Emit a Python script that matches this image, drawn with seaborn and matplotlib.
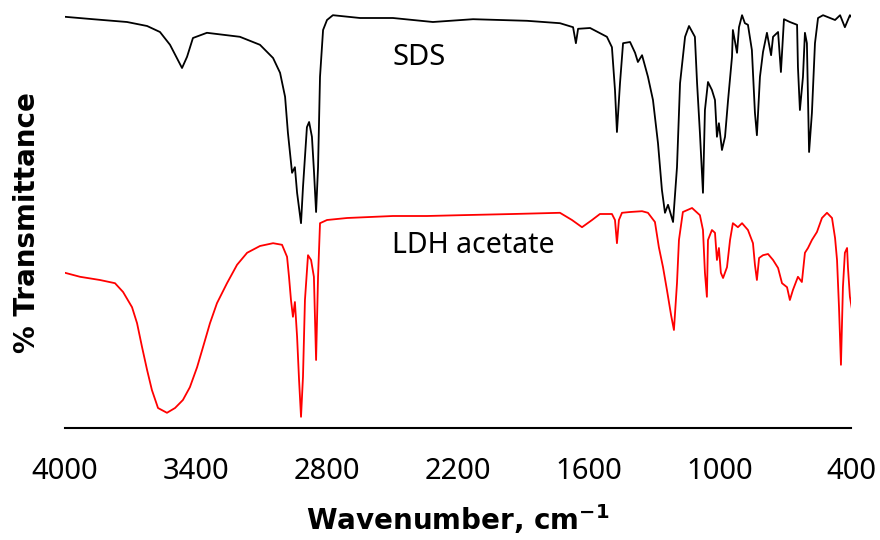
import matplotlib
matplotlib.use('Agg')
import matplotlib.pyplot as plt
import seaborn as sns
import pandas as pd

# FTIR spectra (wavenumber in cm-1, offset % transmittance)
sds_wn = [4000, 3872, 3716, 3624, 3565, 3519, 3464, 3441, 3414, 3350,
          3199, 3107, 3047, 3015, 2992, 2979, 2960, 2947, 2937, 2919,
          2910, 2892, 2882, 2869, 2860, 2850, 2841, 2832, 2818, 2800,
          2773, 2649, 2498, 2315, 2131, 1884, 1733, 1673, 1660, 1650,
          1595, 1518, 1495, 1481, 1472, 1458, 1444, 1412, 1389, 1376,
          1357, 1330, 1307, 1284, 1266, 1252, 1238, 1215, 1197, 1183,
          1160, 1142, 1115, 1105, 1092, 1078, 1069, 1055, 1037, 1023,
          1014, 1005, 991, 977, 963, 945, 941, 922, 913, 899,
          886, 872, 854, 840, 831, 817, 803, 785, 766, 757,
          734, 721, 707, 680, 647, 643, 634, 620, 611, 602,
          592, 579, 565, 551, 528, 496, 473, 450, 428, 405, 395]
sds_t = [102.8, 102.2, 101.5, 100.5, 99.0, 95.8, 90.0, 92.8, 97.5, 98.8,
         97.8, 95.8, 92.5, 88.8, 82.8, 73.8, 63.8, 65.2, 58.8, 51.2,
         60.2, 75.2, 76.5, 72.8, 64.5, 54.0, 65.2, 87.8, 99.5, 102.0,
         103.2, 102.5, 102.5, 101.5, 102.2, 101.8, 101.2, 100.2, 96.2, 99.8,
         100.0, 97.8, 95.2, 84.5, 74.0, 86.2, 96.2, 96.5, 93.8, 91.5,
         93.2, 87.8, 82.0, 71.2, 59.5, 53.8, 55.8, 51.5, 65.2, 86.2,
         97.8, 100.5, 97.8, 86.2, 73.8, 58.8, 79.5, 86.5, 84.5, 82.0,
         72.8, 76.2, 69.5, 72.8, 82.0, 92.8, 99.5, 93.8, 100.2, 103.2,
         101.2, 100.8, 94.5, 78.8, 73.2, 87.8, 94.0, 98.8, 93.2, 97.8,
         99.0, 89.0, 102.2, 101.5, 100.8, 90.2, 79.5, 87.8, 98.8, 96.2,
         69.0, 78.8, 96.2, 102.5, 103.2, 102.5, 102.0, 103.2, 100.2, 103.2, 102.5]

ldh_wn = [4000, 3931, 3840, 3771, 3734, 3693, 3670, 3647, 3624, 3602,
          3574, 3533, 3496, 3460, 3428, 3395, 3368, 3336, 3304, 3258,
          3212, 3166, 3107, 3047, 3006, 2983, 2974, 2965, 2956, 2947,
          2937, 2928, 2919, 2910, 2901, 2887, 2873, 2860, 2850, 2841,
          2832, 2800, 2708, 2498, 2342, 2191, 1948, 1733, 1678, 1632,
          1586, 1550, 1495, 1481, 1472, 1463, 1449, 1412, 1357, 1330,
          1298, 1280, 1261, 1243, 1224, 1211, 1197, 1188, 1170, 1128,
          1092, 1078, 1069, 1060, 1055, 1037, 1023, 1014, 1005, 996,
          986, 968, 954, 941, 918, 899, 872, 849, 840, 831,
          821, 803, 780, 757, 734, 716, 693, 680, 666, 643,
          625, 611, 597, 579, 556, 533, 510, 487, 473, 464,
          455, 446, 437, 428, 418, 414, 405, 395]
ldh_t = [38.8, 37.8, 37.0, 36.2, 34.0, 30.2, 26.2, 20.2, 14.5, 9.5,
         5.0, 3.8, 5.0, 7.0, 10.2, 15.2, 20.2, 26.2, 31.2, 36.2,
         40.8, 43.8, 45.5, 46.2, 45.8, 42.8, 37.8, 32.0, 27.8, 31.5,
         22.8, 12.0, 2.8, 12.8, 32.0, 43.2, 42.0, 37.8, 17.0, 37.8,
         51.2, 52.0, 52.5, 53.0, 53.0, 53.2, 53.5, 53.8, 52.0, 50.2,
         52.0, 53.5, 53.5, 52.0, 46.2, 52.0, 53.8, 54.0, 54.2, 53.8,
         51.5, 45.2, 40.2, 34.5, 28.2, 24.5, 36.2, 47.0, 54.0, 55.0,
         53.2, 49.5, 38.8, 32.8, 47.0, 49.5, 48.8, 42.0, 45.0, 38.8,
         37.5, 40.2, 47.0, 51.2, 50.2, 51.2, 49.5, 46.2, 40.8, 37.0,
         42.5, 43.2, 43.5, 42.0, 40.0, 36.2, 35.2, 32.0, 34.5, 37.8,
         36.5, 43.8, 45.0, 47.0, 49.0, 52.5, 53.8, 52.5, 47.5, 42.0,
         30.2, 15.8, 35.2, 43.8, 45.0, 40.2, 32.8, 29.5]

x_ticks = [4000, 3400, 2800, 2200, 1600, 1000, 400]

sds = pd.DataFrame({'wn': sds_wn, 't': sds_t})
ldh = pd.DataFrame({'wn': ldh_wn, 't': ldh_t})

sns.set_style('white')
plt.rcParams['font.family'] = ['Noto Sans', 'DejaVu Sans']
plt.rcParams['mathtext.fontset'] = 'dejavusans'

fig = plt.figure(figsize=(8.8, 5.4), dpi=100)
ax = fig.add_axes([65 / 880, 112 / 540, 786 / 880, 428 / 540])

sns.lineplot(data=sds, x='wn', y='t', color='black', lw=1.3, estimator=None, ax=ax)
sns.lineplot(data=ldh, x='wn', y='t', color='#ff0000', lw=1.3, estimator=None, ax=ax)

ax.set_xlim(4000, 400)
ax.set_ylim(0, 107)
ax.set_xticks(x_ticks)
ax.set_xticklabels([str(t) for t in x_ticks])
ax.set_yticks([])

for side in ['top', 'right', 'left']:
    ax.spines[side].set_visible(False)
ax.spines['bottom'].set_linewidth(1.5)
ax.spines['bottom'].set_color('black')
ax.tick_params(axis='x', direction='in', length=7.5, width=1.5, color='black',
               pad=21, labelsize=21, labelcolor='black')

ax.text(2502, 90.8, 'SDS', fontsize=21, ha='left', va='baseline', color='black')
ax.text(2502, 43.8, 'LDH acetate', fontsize=20.5, ha='left', va='baseline', color='black')

ax.set_xlabel('Wavenumber, cm$^{\\mathbf{-1}}$', fontsize=20, fontweight='bold',
              family='DejaVu Sans', color='black')
ax.xaxis.label.set_va('baseline')
ax.xaxis.set_label_coords(0.5, -0.238)

ax.set_ylabel('% Transmittance', fontsize=20, fontweight='bold',
              family='DejaVu Sans', color='black')
ax.yaxis.label.set_va('center')
ax.yaxis.set_label_coords(-0.048, 0.481)

plt.savefig('out.png', dpi=100)
